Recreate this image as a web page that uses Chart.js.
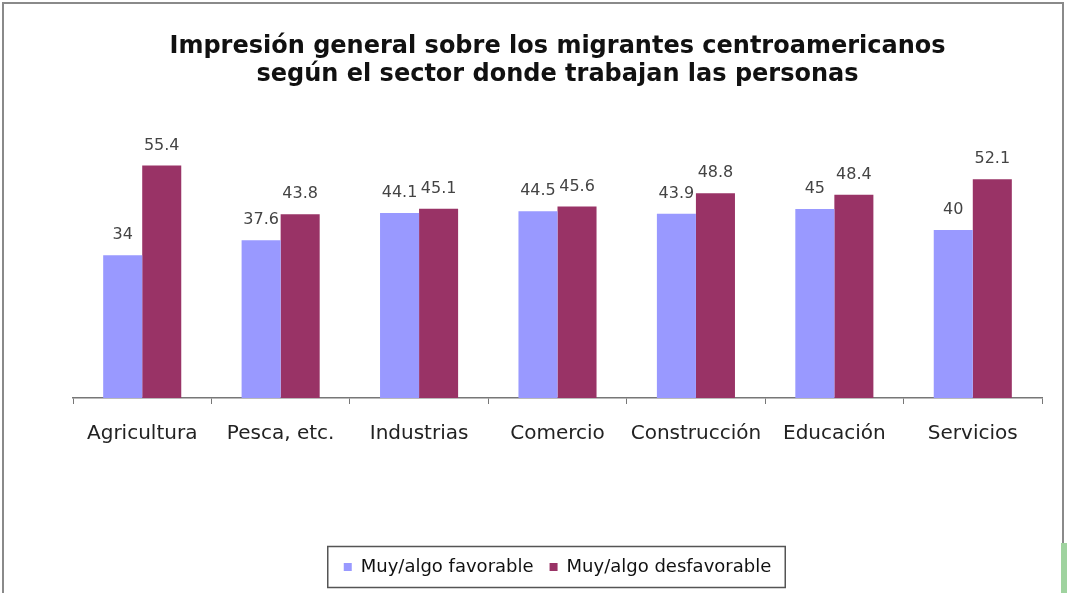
<!DOCTYPE html>
<html lang="es">
<head>
<meta charset="UTF-8">
<title>Impresión general sobre los migrantes centroamericanos</title>
<style>
  html, body { margin: 0; padding: 0; background: #fff; }
  #wrap { width: 1067px; height: 593px; }
</style>
</head>
<body>
<div id="wrap"><canvas id="myChart"></canvas></div>
<script src="https://cdn.jsdelivr.net/npm/chart.js"></script>
<script>
  // datos
  const sectores = ['Agricultura', 'Pesca, etc.', 'Industrias', 'Comercio', 'Construcción', 'Educación', 'Servicios'];
  const favorable = [34, 37.6, 44.1, 44.5, 43.9, 45, 40];
  const desfavorable = [55.4, 43.8, 45.1, 45.6, 48.8, 48.4, 52.1];
  const titulo = ['Impresión general sobre los migrantes centroamericanos', 'según el sector donde trabajan las personas'];

  const FONT = "'DejaVu Sans', sans-serif";

  // etiquetas de valor encima de cada barra
  const etiquetas = {
    id: 'etiquetas',
    afterDatasetsDraw(chart) {
      const ctx = chart.ctx;
      ctx.save();
      ctx.font = '16px ' + FONT;
      ctx.fillStyle = '#444';
      ctx.textAlign = 'center';
      ctx.textBaseline = 'bottom';
      chart.data.datasets.forEach((ds, i) => {
        chart.getDatasetMeta(i).data.forEach((bar, j) => {
          ctx.fillText(String(ds.data[j]), bar.x, bar.y - 12);
        });
      });
      ctx.restore();
    }
  };

  // marco del grafico y recuadro de la leyenda
  const marcos = {
    id: 'marcos',
    afterDraw(chart) {
      const ctx = chart.ctx;
      ctx.save();
      ctx.strokeStyle = '#8a8a8a';
      ctx.lineWidth = 2;
      ctx.strokeRect(3, 3, 1060, 600);
      const boxes = chart.legend.legendHitBoxes;
      if (boxes && boxes.length) {
        const l = Math.min(...boxes.map(b => b.left)) - 16;
        const r = Math.max(...boxes.map(b => b.left + b.width)) + 14;
        const cy = boxes[0].top + boxes[0].height / 2;
        ctx.lineWidth = 1.5;
        ctx.strokeStyle = '#555';
        ctx.strokeRect(l, cy - 20.5, r - l, 41);
      }
      ctx.fillStyle = '#9fd39f';
      ctx.fillRect(1061, 543, 6, 50);
      ctx.restore();
    }
  };

  let ctx = document.querySelector('#myChart').getContext('2d');
  let myChart = new Chart(ctx, {
    type: 'bar',
    data: {
      labels: sectores,
      datasets: [{
        label: 'Muy/algo favorable',
        data: favorable,
        backgroundColor: '#9999ff'
      }, {
        label: 'Muy/algo desfavorable',
        data: desfavorable,
        backgroundColor: '#993366'
      }]
    },
    options: {
      responsive: true,
      maintainAspectRatio: false,
      animation: false,
      layout: { padding: { left: 73, right: 25, top: 0, bottom: 7 } },
      datasets: { bar: { categoryPercentage: 0.564, barPercentage: 1 } },
      scales: {
        x: {
          grid: { display: true, drawOnChartArea: false, drawTicks: true, tickLength: 6, color: '#777', offset: true },
          border: { display: true, color: '#777', width: 1.5 },
          ticks: { color: '#222', font: { family: FONT, size: 20 }, padding: 18, maxRotation: 0, autoSkip: false },
          afterFit(scale) { scale.height += 78; }
        },
        y: { display: false, min: 0, max: 60 }
      },
      plugins: {
        title: {
          display: true,
          text: titulo,
          color: '#111',
          font: { family: FONT, size: 24, weight: 'bold', lineHeight: 1.17 },
          padding: { top: 33, bottom: 57 }
        },
        legend: {
          position: 'bottom',
          labels: {
            color: '#111',
            font: { family: FONT, size: 18 },
            boxWidth: 8,
            boxHeight: 8,
            padding: 16
          }
        },
        tooltip: { enabled: false }
      }
    },
    plugins: [etiquetas, marcos]
  });
</script>
</body>
</html>
